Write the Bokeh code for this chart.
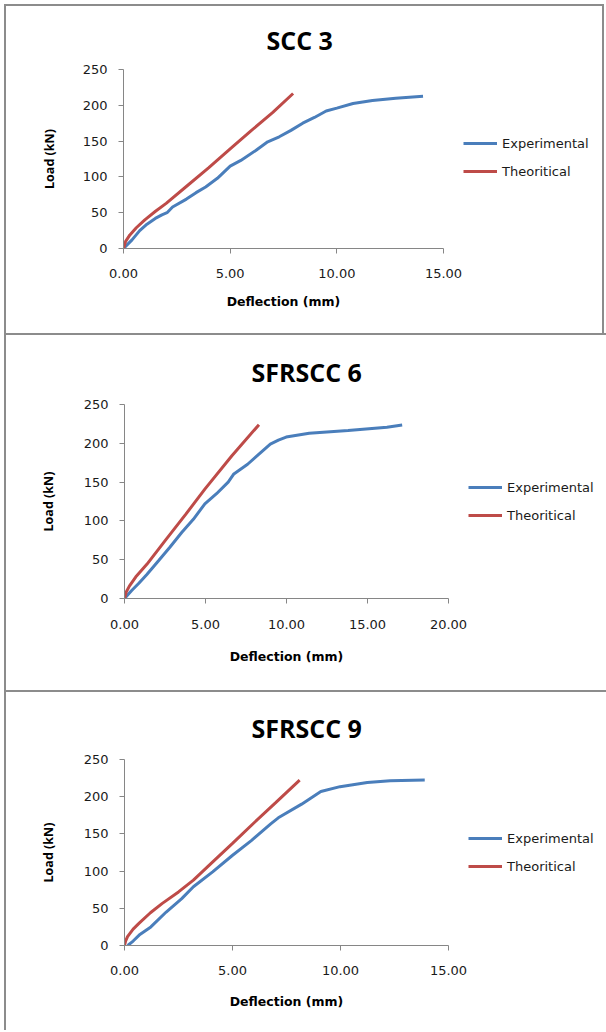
from bokeh.plotting import figure
from bokeh.layouts import column, row
from bokeh.models import Range1d, FixedTicker, PrintfTickFormatter, Legend, LegendItem, Div, Spacer
from bokeh.embed import file_html
from bokeh.resources import INLINE

# ---- data ----
titles = ["SCC  3", "SFRSCC 6", "SFRSCC 9"]
series_names = ["Experimental", "Theoritical"]
x_label = "Deflection (mm)"
y_label = "Load (kN)"

scc3_exp_x = [0, 0.4, 0.76, 1.1, 1.49, 1.8, 2.04, 2.3, 2.95, 3.4, 3.85, 4.4, 5.0, 5.5, 6.2, 6.76,
              7.3, 7.85, 8.4, 8.95, 9.5, 10.0, 10.76, 11.67, 12.76, 14.04]
scc3_exp_y = [0, 12, 25, 34, 42, 47, 50, 58, 69, 78, 86, 98, 115, 123, 137, 149,
              156, 165, 175, 183, 192, 196, 202.5, 206.7, 210, 212.8]
scc3_th_x = [0, 0.1, 0.3, 0.6, 1.0, 1.5, 2.0, 3.0, 4.0, 5.0, 6.0, 7.0, 7.95]
scc3_th_y = [0, 10, 19, 29, 40, 52, 63, 88, 113, 139, 165, 190, 216.5]

sfr6_exp_x = [0, 0.43, 0.9, 1.38, 2.1, 2.8, 3.53, 4.25, 4.96, 5.68, 6.4, 6.75, 7.6, 8.3, 9.0,
              9.5, 9.98, 11.4, 13.8, 16.2, 17.14]
sfr6_exp_y = [0, 10, 20, 31, 48.6, 66, 85, 102, 122, 135, 150, 160.5, 173, 186, 199,
              204, 208, 213, 216.4, 220.7, 223.5]
sfr6_th_x = [0, 0.1, 0.3, 0.7, 1.38, 2.58, 3.8, 4.96, 6.63, 8.3]
sfr6_th_y = [0, 8, 16, 28, 44, 76.6, 109, 141, 184, 224]

sfr9_exp_x = [0.15, 0.4, 0.68, 1.22, 1.93, 2.65, 3.19, 4.08, 4.99, 5.87, 6.77, 7.12, 8.2, 9.09,
              9.98, 11.24, 12.3, 13.9]
sfr9_exp_y = [0, 6, 14, 25, 45, 63, 79, 99, 121, 141, 163.5, 171.6, 190, 207,
              213.5, 219, 221.5, 222.4]
sfr9_th_x = [0, 0.05, 0.14, 0.4, 0.68, 1.2, 1.75, 2.5, 3.19, 4.0, 5.0, 6.0, 7.0, 8.11]
sfr9_th_y = [0, 6, 12, 22, 30, 44, 56.6, 72, 87.8, 110, 137.3, 165, 192, 222.4]

x_max = [15, 20, 15]
x_ticks = [[0, 5, 10, 15], [0, 5, 10, 15, 20], [0, 5, 10, 15]]
y_ticks = [0, 50, 100, 150, 200, 250]

BLUE = "#4A7EBB"
RED = "#BE4B48"
AXIS = "#868686"
TXT = "#1a1a1a"
GRAY = "#8c8c8c"


def bar(w, h):
    return Div(width=w, height=h, margin=0, text="",
               styles={"background-color": GRAY})


def make(idx, w, h, bl, br, bt, bb, title_off, title_so, xt_so, xl_so, yl_so,
         ex, ey, tx, ty):
    p = figure(width=w, height=h, output_backend="svg", toolbar_location=None,
               x_range=Range1d(0, x_max[idx]), y_range=Range1d(0, 250),
               min_border_left=bl, min_border_right=br, min_border_top=bt,
               min_border_bottom=bb)
    p.outline_line_color = None
    p.xgrid.visible = False
    p.ygrid.visible = False

    p.title.text = titles[idx]
    p.title.text_font = "Open Sans"
    p.title.text_font_size = "25px"
    p.title.text_font_style = "bold"
    p.title.text_color = "black"
    p.title.align = "left"
    p.title.offset = title_off
    p.title.standoff = title_so

    for ax in (p.xaxis[0], p.yaxis[0]):
        ax.axis_line_color = AXIS
        ax.major_tick_line_color = AXIS
        ax.major_tick_out = 5
        ax.major_tick_in = 0
        ax.minor_tick_out = 0
        ax.minor_tick_in = 0
        ax.major_label_text_font = "DejaVu Sans"
        ax.major_label_text_font_size = "13px"
        ax.major_label_text_color = TXT
        ax.axis_label_text_font_style = "bold"
        ax.axis_label_text_color = "black"

    p.xaxis.ticker = FixedTicker(ticks=x_ticks[idx])
    p.xaxis.formatter = PrintfTickFormatter(format="%.2f")
    p.xaxis.major_label_standoff = xt_so
    p.xaxis.axis_label = x_label
    p.xaxis.axis_label_text_font = "DejaVu Sans"
    p.xaxis.axis_label_text_font_size = "12.5px"
    p.xaxis.axis_label_standoff = xl_so

    p.yaxis.ticker = FixedTicker(ticks=y_ticks)
    p.yaxis.major_label_standoff = 11
    p.yaxis.axis_label = y_label
    p.yaxis.axis_label_text_font = "Open Sans"
    p.yaxis.axis_label_text_font_size = "12.5px"
    p.yaxis.axis_label_standoff = yl_so

    p.line(ex, ey, line_color=BLUE, line_width=3)
    p.line(tx, ty, line_color=RED, line_width=3)
    return p


def make_legend(w, h, leg_y, ex, ey, tx, ty):
    # legend-only panel: the series are drawn off-view so only the legend shows
    lf = figure(width=w, height=h, output_backend="svg", toolbar_location=None,
                x_range=Range1d(-2, -1), y_range=Range1d(-2, -1),
                x_axis_type=None, y_axis_type=None,
                min_border_left=0, min_border_right=0, min_border_top=0,
                min_border_bottom=0)
    lf.outline_line_color = None
    lf.xgrid.visible = False
    lf.ygrid.visible = False
    r1 = lf.line(ex, ey, line_color=BLUE, line_width=3)
    r2 = lf.line(tx, ty, line_color=RED, line_width=3)
    leg = Legend(items=[LegendItem(label=series_names[0], renderers=[r1]),
                        LegendItem(label=series_names[1], renderers=[r2])],
                 location=(0, leg_y), orientation="vertical")
    leg.border_line_color = None
    leg.background_fill_alpha = 0
    leg.padding = 0
    leg.margin = 0
    leg.spacing = 8
    leg.glyph_width = 34
    leg.glyph_height = 20
    leg.label_height = 20
    leg.label_standoff = 5
    leg.label_text_font = "DejaVu Sans"
    leg.label_text_font_size = "13px"
    leg.label_text_color = TXT
    lf.add_layout(leg)
    return lf


p1 = make(0, 457, 327, 117, 20, 63, 85, 143, 26, 15, 13, 22,
          scc3_exp_x, scc3_exp_y, scc3_th_x, scc3_th_y)
p2 = make(1, 462, 355, 118, 20, 69, 92, 127, 32, 16, 17, 24,
          sfr6_exp_x, sfr6_exp_y, sfr6_th_x, sfr6_th_y)
p3 = make(2, 462, 338, 118, 20, 67, 85, 127, 30, 15, 16, 24,
          sfr9_exp_x, sfr9_exp_y, sfr9_th_x, sfr9_th_y)

l1 = make_legend(139, 327, 67, scc3_exp_x, scc3_exp_y, scc3_th_x, scc3_th_y)
l2 = make_legend(138, 355, 73, sfr6_exp_x, sfr6_exp_y, sfr6_th_x, sfr6_th_y)
l3 = make_legend(138, 338, 69, sfr9_exp_x, sfr9_exp_y, sfr9_th_x, sfr9_th_y)

inner = column(
    bar(600, 2),
    row(bar(2, 327), p1, l1, bar(2, 327), spacing=0),
    bar(602, 2),
    row(bar(2, 355), p2, l2, spacing=0),
    bar(602, 2),
    row(bar(2, 338), p3, l3, spacing=0),
    spacing=0,
)
layout = column(
    Spacer(width=606, height=4, margin=0),
    row(Spacer(width=4, height=1026, margin=0), inner, spacing=0),
    spacing=0,
)

open("out.html", "w").write(file_html(layout, INLINE))
